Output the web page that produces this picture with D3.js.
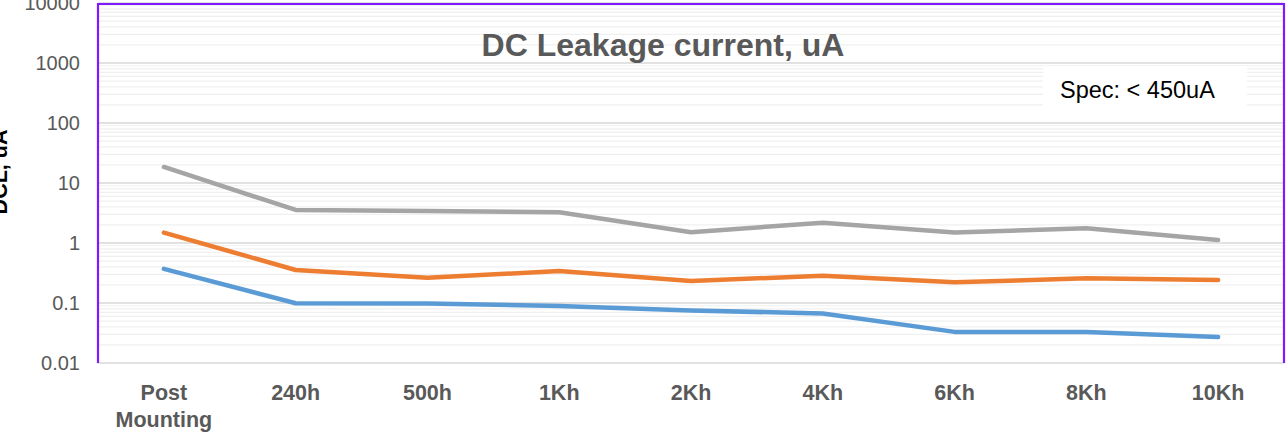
<!DOCTYPE html>
<html>
<head>
<meta charset="utf-8">
<script src="https://cdn.jsdelivr.net/npm/d3@7"></script>
<style>
  html, body { margin: 0; padding: 0; background: #fff; }
  svg { display: block; font-family: "Liberation Sans", Arial, sans-serif; }
</style>
</head>
<body>
<svg id="chart" width="1287" height="433"></svg>
<script>
// ---- data ----
const categories = ["Post\nMounting", "240h", "500h", "1Kh", "2Kh", "4Kh", "6Kh", "8Kh", "10Kh"];
const seriesBlue   = [0.37, 0.099, 0.098, 0.089, 0.075, 0.067, 0.033, 0.033, 0.027];
const seriesOrange = [1.49, 0.355, 0.264, 0.34, 0.233, 0.285, 0.221, 0.258, 0.242];
const seriesGray   = [18.5, 3.55, 3.4, 3.25, 1.51, 2.18, 1.5, 1.76, 1.12];
const yTicks = [0.01, 0.1, 1, 10, 100, 1000, 10000];
const yTickLabels = ["0.01", "0.1", "1", "10", "100", "1000", "10000"];
const titleText = "DC Leakage current, uA";
const yAxisTitle = "DCL, uA";
const specText = "Spec: < 450uA";

// ---- layout ----
const svg = d3.select("#chart");
const pLeft = 98, pRight = 1284, pTop = 3, pBottom = 363;

const x = d3.scaleBand().domain(categories).range([pLeft, pRight]);
const y = d3.scaleLog().domain([0.01, 10000]).range([pBottom, pTop]);

// minor gridlines
const minor = [];
for (let e = -2; e < 4; e++) {
  for (let k = 2; k <= 9; k++) minor.push(k * Math.pow(10, e));
}
svg.append("g").selectAll("line").data(minor).join("line")
  .attr("x1", pLeft).attr("x2", pRight)
  .attr("y1", d => y(d)).attr("y2", d => y(d))
  .attr("stroke", "#f0f0f0").attr("stroke-width", 1.2);

// major gridlines
svg.append("g").selectAll("line").data(yTicks).join("line")
  .attr("x1", pLeft).attr("x2", pRight)
  .attr("y1", d => y(d)).attr("y2", d => y(d))
  .attr("stroke", "#d9d9d9").attr("stroke-width", 1.5);

// y tick labels
svg.append("g").selectAll("text").data(yTicks).join("text")
  .attr("x", 80).attr("y", d => y(d))
  .attr("dy", "0.36em")
  .attr("text-anchor", "end")
  .attr("font-size", 20)
  .attr("fill", "#595959")
  .text((d, i) => yTickLabels[i]);

// x labels
const xl = svg.append("g").selectAll("text").data(categories).join("text")
  .attr("text-anchor", "middle")
  .attr("font-size", 21.5)
  .attr("font-weight", "bold")
  .attr("fill", "#595959");
xl.each(function(d) {
  const lines = d.split("\n");
  const t = d3.select(this);
  lines.forEach((ln, i) => {
    t.append("tspan")
      .attr("x", x(d) + x.bandwidth() / 2)
      .attr("y", 400 + i * 27)
      .text(ln);
  });
});

// purple border (left, top, right)
svg.append("path")
  .attr("d", `M${pLeft},${pBottom} L${pLeft},${pTop + 1} L${pRight},${pTop + 1} L${pRight},${pBottom}`)
  .attr("fill", "none").attr("stroke", "#7F1AFF").attr("stroke-width", 2.2);

// title
svg.append("text")
  .attr("x", 663).attr("y", 56)
  .attr("text-anchor", "middle")
  .attr("font-size", 32)
  .attr("font-weight", "bold")
  .attr("fill", "#595959")
  .text(titleText);

// spec box
svg.append("rect")
  .attr("x", 1043).attr("y", 66).attr("width", 204).attr("height", 41)
  .attr("fill", "#fff");
svg.append("text")
  .attr("x", 1060).attr("y", 98)
  .attr("font-size", 23.5)
  .attr("fill", "#000")
  .text(specText);

// y axis title (rotated)
svg.append("text")
  .attr("transform", "translate(7,172) rotate(-90)")
  .attr("text-anchor", "middle")
  .attr("font-size", 21.5)
  .attr("font-weight", "bold")
  .attr("fill", "#000")
  .text(yAxisTitle);

// lines
const line = d3.line()
  .x((d, i) => x(categories[i]) + x.bandwidth() / 2)
  .y(d => y(d));

const series = [
  { values: seriesGray, color: "#A5A5A5" },
  { values: seriesOrange, color: "#ED7D31" },
  { values: seriesBlue, color: "#5B9BD5" }
];
svg.append("g").selectAll("path").data(series).join("path")
  .attr("d", d => line(d.values))
  .attr("fill", "none")
  .attr("stroke", d => d.color)
  .attr("stroke-width", 4.5)
  .attr("stroke-linecap", "round")
  .attr("stroke-linejoin", "round");
</script>
</body>
</html>
